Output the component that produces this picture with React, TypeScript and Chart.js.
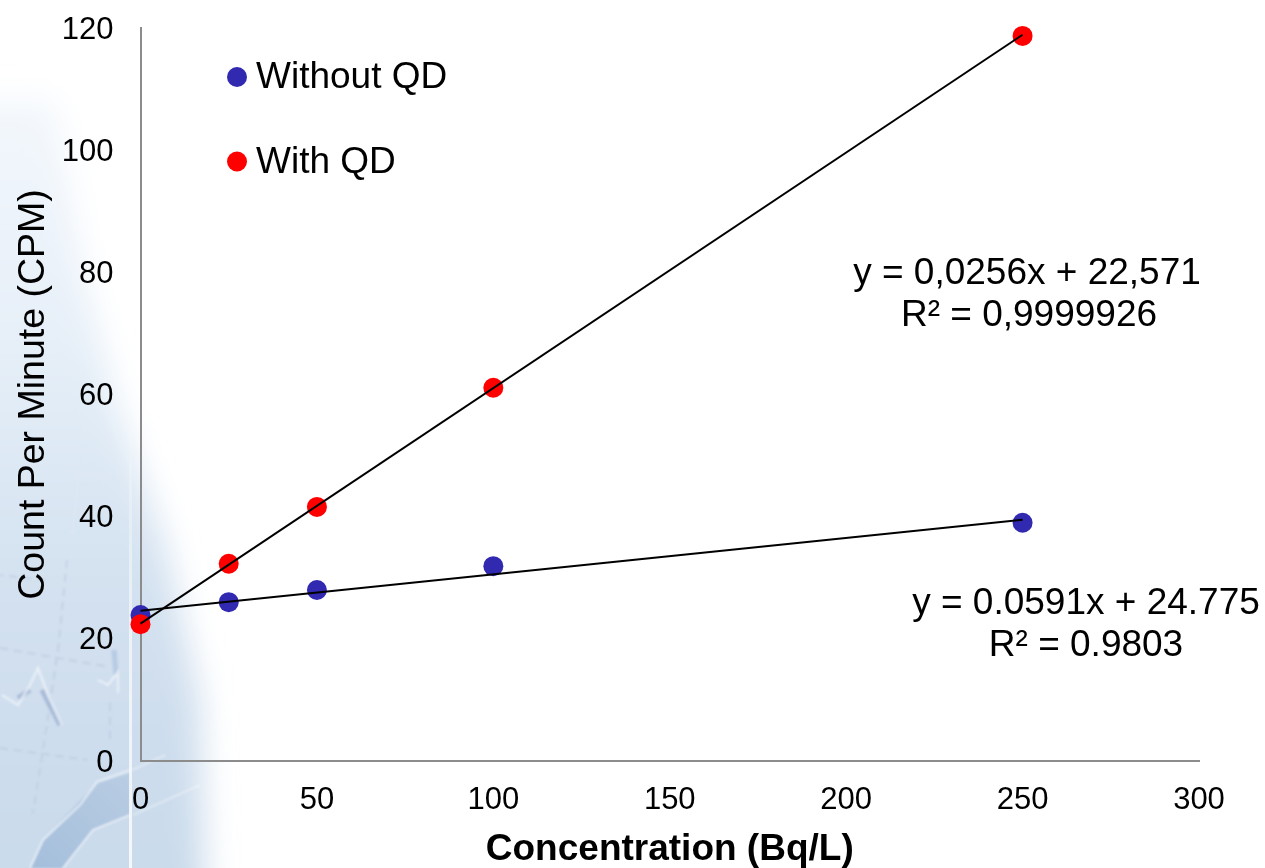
import React, { useEffect, useRef } from "react";
import { Chart, registerables } from "chart.js";

Chart.register(...registerables);

const concentrations = [0, 25, 50, 100, 250];
const withoutQd = [23.9, 26.0, 28.0, 31.9, 39.0];
const withQd = [22.4, 32.3, 41.6, 61.1, 118.7];
const trendX = [0, 250];
const trendWithoutQd = [24.6, 39.5];
const trendWithQd = [22.5, 118.9];
const seriesNames = ["Without QD", "With QD"];
const xTicks = [0, 50, 100, 150, 200, 250, 300];
const redEquation = ["y = 0,0256x + 22,571", "R² = 0,9999926"];
const blueEquation = ["y = 0.0591x + 24.775", "R² = 0.9803"];
const xTitle = "Concentration (Bq/L)";
const yTitle = "Count Per Minute (CPM)";

const BLUE = "#3129b0";
const RED = "#ff0000";
const FONT = "'Liberation Sans', Arial, sans-serif";

const pts = (xs: number[], ys: number[]) => xs.map((x, i) => ({ x, y: ys[i] }));

const overlay = {
  id: "overlay",
  afterDraw(chart: any) {
    const { ctx } = chart;
    ctx.save();
    ctx.textBaseline = "middle";
    ctx.font = `37px ${FONT}`;
    ctx.fillStyle = "#000";
    ctx.textAlign = "center";
    redEquation.forEach((t, i) => ctx.fillText(t, 1027 + i * 2, 274 + i * 42));
    blueEquation.forEach((t, i) => ctx.fillText(t, 1086, 604 + i * 42));
    ctx.textAlign = "left";
    const legendColors = [BLUE, RED];
    seriesNames.forEach((t, i) => {
      const y = 77 + i * 84.5;
      ctx.beginPath();
      ctx.fillStyle = legendColors[i];
      ctx.arc(237, y, 10, 0, Math.PI * 2);
      ctx.fill();
      ctx.fillStyle = "#000";
      ctx.fillText(t, 256, y + 1);
    });
    ctx.restore();
  },
};

function Backdrop() {
  return (
    <svg width={1265} height={868} style={{ position: "absolute", left: 0, top: 0 }}>
      <defs>
        <linearGradient id="wash" x1="0" x2="0" y1="0" y2="1">
          <stop offset="0" stopColor="#f3f7fc" />
          <stop offset="0.3" stopColor="#e6eff8" />
          <stop offset="0.6" stopColor="#d3e1f0" />
          <stop offset="1" stopColor="#c8d9ea" />
        </linearGradient>
        <linearGradient id="sea" x1="1" x2="0" y1="0" y2="1">
          <stop offset="0" stopColor="#b9cde3" />
          <stop offset="1" stopColor="#a4bedb" />
        </linearGradient>
        <linearGradient id="seam" x1="0" x2="0" y1="0" y2="1">
          <stop offset="0" stopColor="#fff" stopOpacity="0" />
          <stop offset="0.5" stopColor="#fff" stopOpacity="0.6" />
          <stop offset="1" stopColor="#fff" stopOpacity="0.8" />
        </linearGradient>
        <filter id="soft" x="-30%" y="-30%" width="160%" height="160%">
          <feGaussianBlur stdDeviation="16" />
        </filter>
        <filter id="tiny">
          <feGaussianBlur stdDeviation="0.9" />
        </filter>
      </defs>
      <path
        d="M-40 100 L55 100 L80 260 L115 400 L165 540 L200 700 L205 920 L-40 920 Z"
        fill="url(#wash)"
        filter="url(#soft)"
      />
      <g filter="url(#tiny)">
        <path d="M130 773 L97 783 L43 840 L30 868 L63 868 L93 830 L130 815 Z" fill="url(#sea)" />
        <path
          d="M130 770 L97 782 L80 805 L43 840 L30 868 M63 868 L93 830 L130 815"
          stroke="#f2f6fb"
          strokeWidth={1.8}
          fill="none"
          opacity={0.8}
        />
        <path
          d="M132 770 L165 755 M133 815 L200 785"
          stroke="#fff"
          strokeWidth={2}
          fill="none"
          opacity={0.35}
        />
        <path
          d="M67 560 L58 650 L43 750 L33 813 M0 648 L110 667 M0 748 L87 760 M110 703 L110 745 M45 580 L0 575"
          stroke="#aebfd6"
          strokeWidth={1.5}
          strokeDasharray="8 6"
          fill="none"
          opacity={0.5}
        />
        <path d="M18 698 L30 690 M42 690 L60 725" stroke="#93a9cd" strokeWidth={5} fill="none" opacity={0.65} />
        <path
          d="M2 695 L18 705 L30 685 L38 668 L48 695 L62 725"
          stroke="#f4f8fc"
          strokeWidth={2.5}
          fill="none"
          opacity={0.65}
        />
        <path d="M114 650 L116 675" stroke="#a9c0de" strokeWidth={5} fill="none" opacity={0.65} />
        <path d="M98 680 L108 685 L118 672 L118 693" stroke="#f4f8fc" strokeWidth={2.5} fill="none" opacity={0.65} />
        <path d="M80 460 L76 500 L72 535 M60 470 L120 480" stroke="#dfe8f3" strokeWidth={2} fill="none" opacity={0.7} />
      </g>
      <rect x={129} y={400} width={3} height={468} fill="url(#seam)" />
    </svg>
  );
}

export default function App() {
  const ref = useRef<HTMLCanvasElement | null>(null);
  useEffect(() => {
    if (!ref.current) return;
    const chart = new Chart(ref.current, {
      type: "scatter",
      plugins: [overlay],
      data: {
        datasets: [
          {
            label: "Trend With QD",
            data: pts(trendX, trendWithQd),
            showLine: true,
            borderColor: "#000",
            borderWidth: 2,
            pointRadius: 0,
            order: 1,
            clip: false,
          },
          {
            label: "Trend Without QD",
            data: pts(trendX, trendWithoutQd),
            showLine: true,
            borderColor: "#000",
            borderWidth: 2,
            pointRadius: 0,
            order: 2,
            clip: false,
          },
          {
            label: seriesNames[1],
            data: pts(concentrations, withQd),
            backgroundColor: RED,
            borderColor: RED,
            pointRadius: 10,
            pointBorderWidth: 0,
            order: 3,
            clip: false,
          },
          {
            label: seriesNames[0],
            data: pts(concentrations, withoutQd),
            backgroundColor: BLUE,
            borderColor: BLUE,
            pointRadius: 10,
            pointBorderWidth: 0,
            order: 4,
            clip: false,
          },
        ],
      } as any,
      options: {
        animation: false,
        responsive: false,
        layout: { padding: { left: 0, top: 28, right: 66, bottom: 0 } },
        plugins: {
          legend: { display: false },
          tooltip: { enabled: false },
        },
        scales: {
          x: {
            type: "linear",
            min: 0,
            max: 300,
            afterBuildTicks: (axis: any) => {
              axis.ticks = xTicks.map((value) => ({ value }));
            },
            grid: { display: false, drawTicks: false },
            border: { display: true, color: "#8c8c8c", width: 2 },
            ticks: {
              padding: 21,
              color: "#000",
              maxRotation: 0,
              font: { family: FONT, size: 31 },
            },
            title: {
              display: true,
              text: xTitle,
              color: "#000",
              padding: { top: 17, bottom: -4 },
              font: { family: FONT, size: 37, weight: "bold" },
            },
            afterFit: (axis: any) => {
              axis.height = 107;
            },
          },
          y: {
            type: "linear",
            min: 0,
            max: 120,
            grid: { display: false, drawTicks: false },
            border: { display: true, color: "#8c8c8c", width: 2 },
            ticks: {
              stepSize: 20,
              padding: 27,
              labelOffset: 2,
              color: "#000",
              font: { family: FONT, size: 31 },
            },
            title: {
              display: true,
              text: yTitle,
              color: "#000",
              padding: { top: 11, bottom: 0 },
              font: { family: FONT, size: 37.5 },
            },
            afterFit: (axis: any) => {
              axis.width = 140.5;
              axis.paddingTop = 0;
              axis.paddingBottom = 0;
            },
          },
        },
      },
    } as any);
    return () => chart.destroy();
  }, []);
  return (
    <div style={{ position: "fixed", left: 0, top: 0, width: 1265, height: 868, background: "#fff", overflow: "hidden" }}>
      <Backdrop />
      <canvas
        ref={ref}
        width={1265}
        height={868}
        style={{ position: "absolute", left: 0, top: 0, width: 1265, height: 868 }}
      />
    </div>
  );
}
